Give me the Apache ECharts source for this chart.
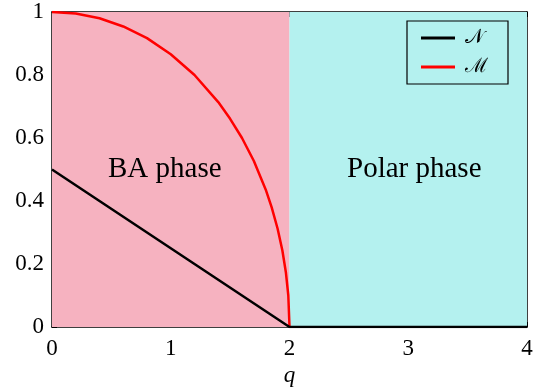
<!DOCTYPE html>
<html><head><meta charset="utf-8">
<script src="https://cdn.jsdelivr.net/npm/echarts@6/dist/echarts.min.js"></script>
<style>html,body{margin:0;padding:0;background:#fff}#c{width:537px;height:387px}</style>
</head><body><div id="c"></div>
<script>
const xTicks = [0, 1, 2, 3, 4];
const yTicks = [0, 0.2, 0.4, 0.6, 0.8, 1];
const regionNames = ['BA phase', 'Polar phase'];
const regionBounds = [[0, 2], [2, 4]];
const seriesKeys = ['N', 'M'];
const seriesLabels = {N: '\u{1D4A9}', M: '\u2133'};
const nQ = [0, 2, 4];
const nVal = [0.5, 0, 0];
const mQ = [0, 0.2, 0.4, 0.6, 0.8, 1.0, 1.2, 1.4, 1.5, 1.6, 1.7, 1.8, 1.85, 1.9, 1.94, 1.97, 1.99, 2.0];
const mVal = [1, 0.995, 0.980, 0.954, 0.917, 0.866, 0.800, 0.714, 0.661, 0.600, 0.527, 0.436, 0.380, 0.312, 0.243, 0.172, 0.100, 0];

const font = 'Liberation Serif';
const chart = echarts.init(document.getElementById('c'));
function axisLine() { return {show: true, onZero: false, lineStyle: {color: '#000', width: 1.5}}; }
function axisTick() { return {show: true, inside: true, length: 5}; }
chart.setOption({
  animation: false,
  textStyle: {fontFamily: font},
  grid: {left: 52, right: 10, top: 12, bottom: 60, outerBoundsMode: 'none'},
  legend: {
    left: 407, top: 21,
    orient: 'vertical',
    data: seriesKeys.map(n => ({name: n, icon: 'rect'})),
    formatter: n => seriesLabels[n],
    itemWidth: 34, itemHeight: 3, itemGap: 9,
    padding: [7, 20, 7, 14],
    borderColor: '#000', borderWidth: 1.2,
    backgroundColor: 'transparent',
    textStyle: {fontFamily: 'DejaVu Serif', fontSize: 20, color: '#000', padding: [0, 0, 0, 5]}
  },
  xAxis: [
    {type: 'value', min: xTicks[0], max: xTicks[xTicks.length - 1], interval: 1,
      name: 'q', nameLocation: 'middle', nameGap: 36,
      nameTextStyle: {fontFamily: font, fontStyle: 'italic', fontSize: 23, color: '#000'},
      axisLine: axisLine(), axisTick: axisTick(), splitLine: {show: false},
      axisLabel: {fontFamily: font, fontSize: 23, color: '#000', margin: 10}},
    {type: 'value', position: 'top', min: 0, max: 4, interval: 1,
      axisLine: axisLine(), axisTick: axisTick(), splitLine: {show: false},
      axisLabel: {show: false}}
  ],
  yAxis: [
    {type: 'value', min: yTicks[0], max: yTicks[yTicks.length - 1], interval: 0.2,
      axisLine: axisLine(), axisTick: axisTick(), splitLine: {show: false},
      axisLabel: {fontFamily: font, fontSize: 23, color: '#000', margin: 8}},
    {type: 'value', position: 'right', min: 0, max: 1, interval: 0.2,
      axisLine: axisLine(), axisTick: axisTick(), splitLine: {show: false},
      axisLabel: {show: false}}
  ],
  series: [
    {
      name: 'bg', type: 'line', data: [], silent: true,
      markArea: {
        silent: true,
        data: regionBounds.map((b, i) => [
          {xAxis: b[0], yAxis: 0, name: regionNames[i],
           itemStyle: {color: i === 0 ? '#F6B2C0' : '#B4F1EF'},
           label: {offset: [i === 0 ? -6 : 6, 0]}},
          {xAxis: b[1], yAxis: 1}
        ]),
        label: {show: true, position: 'inside', fontFamily: font, fontSize: 29, color: '#000'}
      }
    },
    {name: seriesKeys[0], type: 'line', showSymbol: false, symbol: 'none',
     data: nQ.map((q, i) => [q, nVal[i]]),
     lineStyle: {color: '#000', width: 2.5}, itemStyle: {color: '#000'}, z: 4},
    {name: seriesKeys[1], type: 'line', showSymbol: false, symbol: 'none',
     data: mQ.map((q, i) => [q, mVal[i]]),
     lineStyle: {color: '#FF0000', width: 2.5}, itemStyle: {color: '#FF0000'}, z: 3}
  ]
});
</script></body></html>
